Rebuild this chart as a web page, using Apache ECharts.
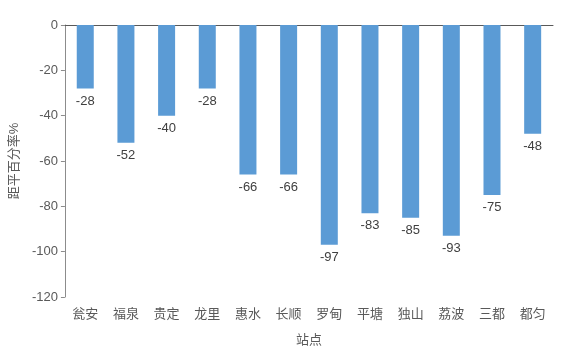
<!DOCTYPE html>
<html>
<head>
<meta charset="utf-8">
<script src="https://cdn.jsdelivr.net/npm/echarts@6/dist/echarts.min.js"></script>
<style>
  html, body { margin: 0; padding: 0; background: #fff; }
  #chart { width: 577px; height: 352px; }
</style>
</head>
<body>
<div id="chart"></div>
<script>
// 站点
const stations = ['瓮安', '福泉', '贵定', '龙里', '惠水', '长顺', '罗甸', '平塘', '独山', '荔波', '三都', '都匀']
// 距平百分率 (%)
const anomaly = [-28, -52, -40, -28, -66, -66, -97, -83, -85, -93, -75, -48]
const yTicks = { min: -120, max: 0, interval: 20 }

const font = '"Liberation Sans", "Noto Sans CJK SC", sans-serif'
const textColor = '#595959'

const chart = echarts.init(document.getElementById('chart'))

chart.setOption({
  animation: false,
  textStyle: { fontFamily: font },
  grid: { left: 58, right: 24, top: 25, bottom: 55 },
  xAxis: [
    {
      type: 'category',
      data: stations,
      position: 'bottom',
      axisLine: { show: false, onZero: false },
      axisTick: { show: false },
      axisLabel: { color: textColor, fontSize: 13, margin: 11, fontFamily: font },
      name: '站点',
      nameLocation: 'middle',
      nameGap: 37,
      nameTextStyle: { color: textColor, fontSize: 13, fontFamily: font }
    },
    {
      type: 'category',
      data: stations,
      position: 'top',
      axisLine: { show: true, onZero: false, lineStyle: { color: '#595959', width: 1 } },
      axisTick: { show: false },
      axisLabel: { show: false }
    }
  ],
  yAxis: {
    type: 'value',
    min: yTicks.min,
    max: yTicks.max,
    interval: yTicks.interval,
    axisLine: { show: true, lineStyle: { color: '#8c8c8c' } },
    axisTick: { show: true, length: 4, lineStyle: { color: '#8c8c8c' } },
    splitLine: { show: false },
    axisLabel: { color: textColor, fontSize: 13, margin: 7, fontFamily: font },
    name: '距平百分率%',
    nameLocation: 'middle',
    nameGap: 38,
    nameTextStyle: { color: textColor, fontSize: 13, fontFamily: font }
  },
  series: [
    {
      type: 'bar',
      data: anomaly,
      barWidth: 17,
      itemStyle: { color: '#5B9BD5' },
      label: {
        show: true,
        position: 'bottom',
        distance: 6,
        color: '#404040',
        fontSize: 13,
        fontFamily: font
      }
    }
  ]
})
</script>
</body>
</html>
